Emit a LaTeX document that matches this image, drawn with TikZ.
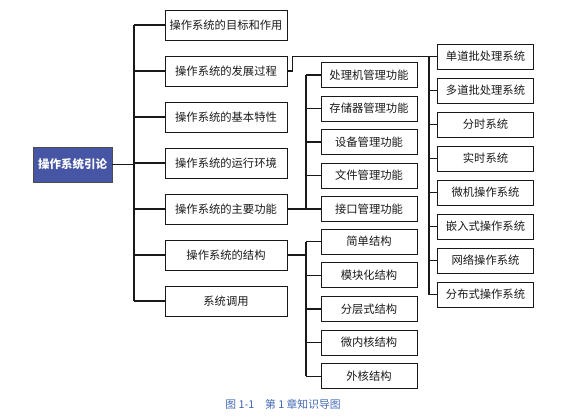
\documentclass[tikz,border=0pt]{standalone}
\usepackage{fontspec}
\setmainfont{Noto Sans CJK SC}
\usetikzlibrary{positioning,calc}
\definecolor{rootblue}{RGB}{70,86,165}
\definecolor{capblue}{RGB}{66,104,178}

\begin{document}
\begin{tikzpicture}[x=1pt,y=-1pt,
  box/.style={draw=black!90, line width=0.9pt, minimum width=122pt, minimum height=30pt,
    inner sep=0pt, text=black!90, font=\fontsize{11.3}{13}\selectfont},
  sub/.style={box, minimum width=96pt, minimum height=25pt},
  root/.style={box, fill=rootblue, draw=black!70, text=white, minimum width=79pt,
    minimum height=35pt, font=\fontsize{11.5}{13}\selectfont\bfseries},
  link/.style={line width=1.2pt, black!90}]
\useasboundingbox (0,0) rectangle (569,417);

\node[root] (intro) at (72.5,164.5) {操作系统引论};

% first level
\foreach \t [count=\i] in {操作系统的目标和作用,操作系统的发展过程,操作系统的基本特性,
    操作系统的运行环境,操作系统的主要功能,操作系统的结构,系统调用} {
  \node[box] (m\i) at (226,{25+46*(\i-1)}) {\t};
}

% functions and structures
\foreach \t [count=\k] in {处理机管理功能,存储器管理功能,设备管理功能,文件管理功能,接口管理功能} {
  \node[sub] (f\k) at (369,{75+33.5*(\k-1)}) {\t};
}
\foreach \t [count=\k] in {简单结构,模块化结构,分层式结构,微内核结构,外核结构} {
  \node[sub] (s\k) at (369,{241.5+33.7*(\k-1)}) {\t};
}

% kinds of systems
\foreach \t [count=\k] in {单道批处理系统,多道批处理系统,分时系统,实时系统,微机操作系统,
    嵌入式操作系统,网络操作系统,分布式操作系统} {
  \node[sub] (r\k) at (485.5,{56.5+34*(\k-1)}) {\t};
}

\coordinate (tr) at (134,0);
\coordinate (fv) at (306,0);
\coordinate (rv) at (429,0);

\draw[link] (intro) -- (intro -| tr);
\draw[link] (m1.west -| tr) -- (m7.west -| tr);
\foreach \i in {1,...,7} \draw[link] (m\i.west) -- (m\i.west -| tr);

\draw[link] (m5.east) -- (m5.east -| fv);
\draw[link] (f1.west -| fv) -- (f5.west -| fv);
\foreach \k in {1,...,5} \draw[link] (f\k.west) -- (f\k.west -| fv);

\draw[link] (m6.east) -- (m6.east -| fv);
\draw[link] (s1.west -| fv) -- (s5.west -| fv);
\foreach \k in {1,...,5} \draw[link] (s\k.west) -- (s\k.west -| fv);

\draw[link] (m2.east) -- ++(5,0) |- (r1.west);
\draw[link] (r1.west -| rv) -- (r8.west -| rv);
\foreach \k in {2,...,8} \draw[link] (r\k.west) -- (r\k.west -| rv);

\node[text=capblue, font=\fontsize{10.8}{12}\selectfont] (cap) at (283,404) {图 1-1\quad 第 1 章知识导图};
\end{tikzpicture}
\end{document}
